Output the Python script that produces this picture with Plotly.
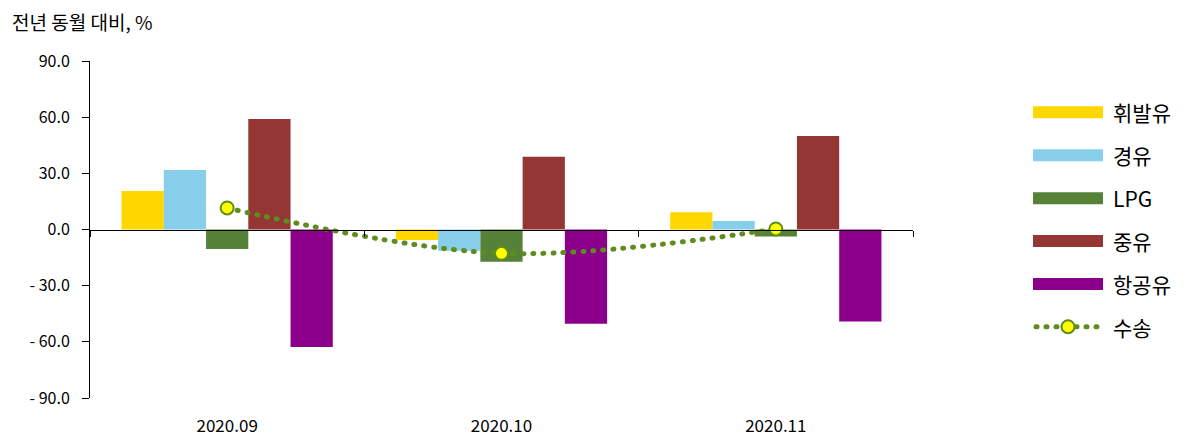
import plotly.graph_objects as go

categories = ["2020.09", "2020.10", "2020.11"]
gasoline = [20.5, -5.6, 9.2]      # 휘발유
diesel = [31.8, -11.3, 4.5]       # 경유
lpg = [-10.4, -17.2, -3.8]        # LPG
heavy = [59.0, 38.9, 50.0]        # 중유
jet = [-62.7, -50.3, -49.2]       # 항공유
transport = [11.5, -12.7, 0.3]    # 수송

y_ticks = [90, 60, 30, 0, -30, -60, -90]
y_tick_text = ["90.0", "60.0", "30.0", "0.0", "- 30.0", "- 60.0", "- 90.0"]

bar_series = [
    ("휘발유", gasoline, "#FFD700"),
    ("경유", diesel, "#87CEEB"),
    ("LPG", lpg, "#558237"),
    ("중유", heavy, "#943634"),
    ("항공유", jet, "#8B008B"),
]
line_color = "#5E8C1E"
FONT = "Noto Sans CJK KR"
DOT = "1px,9px"

fig = go.Figure()
for name, vals, col in bar_series:
    fig.add_trace(go.Bar(x=categories, y=vals, name=name, marker=dict(color=col, line=dict(width=0)),
                         showlegend=False))

fig.add_trace(go.Scatter(
    x=categories, y=transport, name="수송", mode="lines+markers",
    xaxis="x2", yaxis="y",
    line=dict(color=line_color, width=5, dash=DOT, shape="spline", smoothing=1),
    marker=dict(size=13, color="#FFFF00", line=dict(color=line_color, width=2)),
    showlegend=False,
))

L, R, T, B = 90, 287, 61, 42
W, H = 1200, 440
pw, ph = W - L - R, H - T - B

def px(x):
    return (x - L) / pw

def py(y):
    return (H - B - y) / ph

shapes = []
annotations = []
legend_y = [112.3, 155.3, 198.3, 241, 284]
for (name, vals, col), yy in zip(bar_series, legend_y):
    shapes.append(dict(type="rect", xref="paper", yref="paper",
                       x0=px(1033), x1=px(1103), y0=py(yy + 6), y1=py(yy - 6),
                       fillcolor=col, line=dict(width=0)))
    annotations.append(dict(text=name, xref="paper", yref="paper", x=px(1111), y=py(yy),
                            xanchor="left", yanchor="middle", showarrow=False,
                            font=dict(size=21, color="#000", family=FONT)))
ly = 326.7
shapes.append(dict(type="line", xref="paper", yref="paper", x0=px(1036), x1=px(1098), y0=py(ly), y1=py(ly),
                   line=dict(color=line_color, width=5, dash=DOT)))
shapes.append(dict(type="circle", xref="paper", yref="paper", xsizemode="pixel", ysizemode="pixel",
                   xanchor=px(1068), yanchor=py(ly), x0=-6.5, x1=6.5, y0=-6.5, y1=6.5,
                   fillcolor="#FFFF00", line=dict(color=line_color, width=2)))
annotations.append(dict(text="수송", xref="paper", yref="paper", x=px(1111), y=py(ly),
                        xanchor="left", yanchor="middle", showarrow=False,
                        font=dict(size=21, color="#000", family=FONT)))
annotations.append(dict(text="전년 동월 대비, %", xref="paper", yref="paper", x=px(10), y=py(22),
                        xanchor="left", yanchor="middle", showarrow=False,
                        font=dict(size=19, color="#000", family=FONT)))

fig.update_layout(
    width=W, height=H,
    margin=dict(l=L, r=R, t=T, b=B),
    plot_bgcolor="white", paper_bgcolor="white",
    barmode="group", bargap=0.23, bargroupgap=0,
    font=dict(family=FONT, size=15, color="#000"),
    showlegend=False,
    xaxis=dict(type="category", categoryarray=categories, range=[-0.5, 2.5], automargin=False,
               showline=False, showgrid=False, zeroline=False,
               ticks="outside", ticklen=13, tickcolor="rgba(0,0,0,0)",
               tickfont=dict(size=17, family=FONT)),
    xaxis2=dict(type="category", categoryarray=categories, range=[-0.5, 2.5], automargin=False,
                overlaying="x", anchor="free", position=0.5,
                showline=True, linecolor="#000", linewidth=1,
                showgrid=False, zeroline=False, showticklabels=False,
                ticks="outside", tickson="boundaries", ticklen=6, tickcolor="#000", tickwidth=1),
    yaxis=dict(range=[-90, 90], tickvals=y_ticks, ticktext=y_tick_text, automargin=False,
               showline=True, linecolor="#000", linewidth=1,
               ticks="outside", ticklen=7, tickcolor="#000", tickwidth=1,
               ticklabelstandoff=9,
               showgrid=False, zeroline=False,
               tickfont=dict(size=16, family=FONT)),
    shapes=shapes, annotations=annotations,
)

post = (
    "document.body.style.margin='0';"
    "var s=document.createElement('style');"
    "s.textContent='.js-line, .shapelayer path{stroke-linecap:round;}';"
    "document.head.appendChild(s);"
)
fig.write_html("out.html", post_script=post, config={"displayModeBar": False})
